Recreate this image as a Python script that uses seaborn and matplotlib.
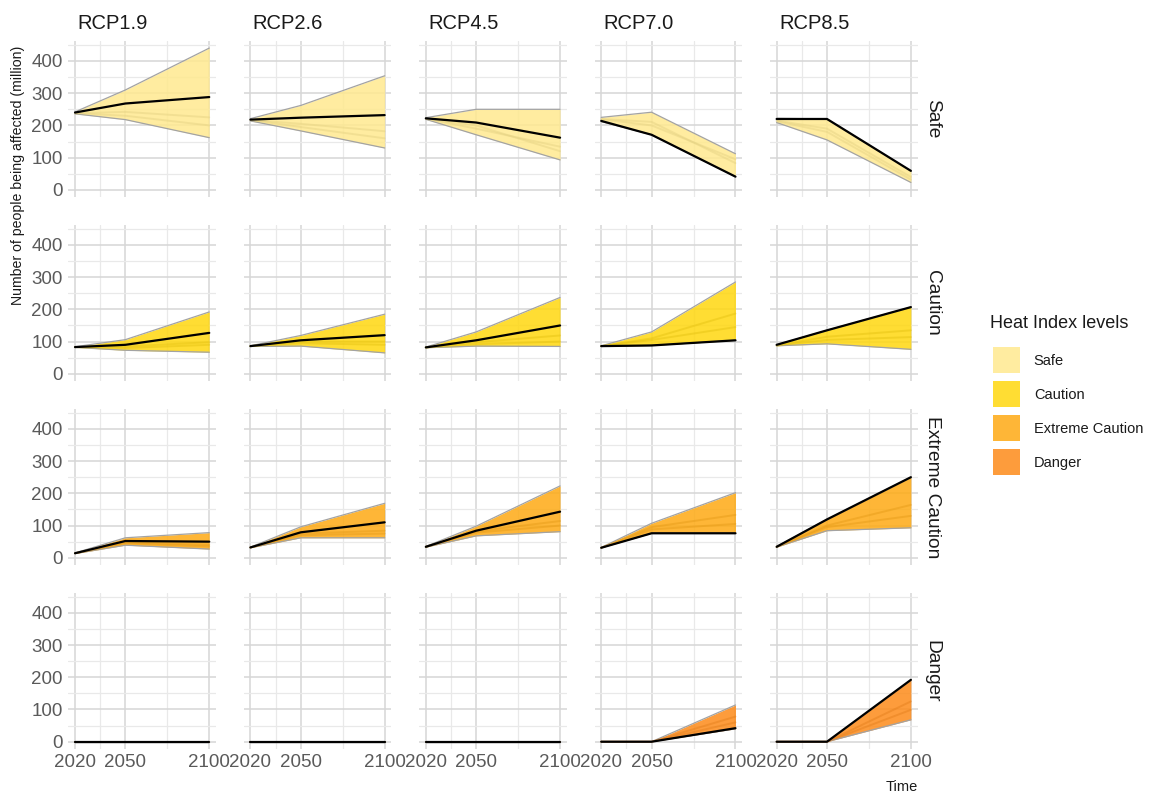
import matplotlib
matplotlib.use("Agg")
import numpy as np
import pandas as pd
import matplotlib.pyplot as plt
import seaborn as sns
from matplotlib.patches import Patch

# ---------------- data ----------------
years = [2020, 2050, 2100]
scenarios = ["RCP1.9", "RCP2.6", "RCP4.5", "RCP7.0", "RCP8.5"]
levels = ["Safe", "Caution", "Extreme Caution", "Danger"]
level_colors = ["#FFE98F", "#FFD70F", "#FEAA14", "#FD8B1A"]

# each list: one [2020, 2050, 2100] triple per scenario
safe_main = [[240, 268, 288], [218, 224, 232], [222, 209, 162], [214, 171, 41], [220, 220, 59]]
safe_low = [[236, 218, 162], [214, 183, 130], [219, 171, 93], [212, 171, 41], [209, 155, 23]]
safe_high = [[242, 310, 440], [221, 262, 354], [224, 250, 250], [225, 241, 112], [222, 220, 59]]
safe_mid1 = [[238, 242, 225], [217, 205, 182], [221, 190, 134], [220, 211, 83], [215, 190, 40]]
safe_mid2 = [[238, 230, 200], [217, 195, 160], [221, 200, 120], [219, 200, 95], [213, 180, 32]]

caution_main = [[83, 90, 127], [86, 104, 120], [82, 104, 150], [86, 88, 104], [90, 135, 207]]
caution_low = [[82, 73, 67], [85, 86, 65], [81, 86, 85], [85, 88, 104], [87, 93, 76]]
caution_high = [[84, 106, 192], [87, 119, 185], [83, 130, 237], [87, 130, 285], [90, 135, 207]]
caution_mid1 = [[83, 85, 98], [86, 100, 100], [82, 98, 119], [86, 110, 187], [88, 115, 135]]
caution_mid2 = [[83, 80, 90], [86, 95, 90], [82, 92, 100], [86, 105, 145], [88, 105, 114]]

extreme_main = [[14, 52, 50], [32, 79, 110], [34, 84, 143], [31, 76, 76], [34, 119, 250]]
extreme_low = [[13, 39, 27], [31, 62, 62], [33, 68, 81], [31, 76, 76], [33, 84, 93]]
extreme_high = [[15, 62, 78], [33, 96, 169], [35, 98, 223], [32, 107, 202], [35, 119, 250]]
extreme_mid1 = [[14, 48, 40], [32, 75, 84], [34, 82, 114], [31, 95, 133], [34, 100, 164]]
extreme_mid2 = [[14, 45, 35], [32, 70, 75], [34, 78, 100], [31, 88, 105], [34, 95, 130]]

danger_main = [[0, 0, 0], [0, 0, 0], [0, 0, 0], [0, 0, 42], [0, 0, 192]]
danger_low = [[0, 0, 0], [0, 0, 0], [0, 0, 0], [0, 0, 40], [0, 0, 68]]
danger_high = [[0, 0, 0], [0, 0, 0], [0, 0, 0], [0, 0, 114], [0, 0, 192]]
danger_mid1 = [[0, 0, 0], [0, 0, 0], [0, 0, 0], [0, 0, 78], [0, 0, 125]]
danger_mid2 = [[0, 0, 0], [0, 0, 0], [0, 0, 0], [0, 0, 60], [0, 0, 99]]

series_by_level = {
    "Safe": dict(main=safe_main, low=safe_low, high=safe_high, mid1=safe_mid1, mid2=safe_mid2),
    "Caution": dict(main=caution_main, low=caution_low, high=caution_high, mid1=caution_mid1, mid2=caution_mid2),
    "Extreme Caution": dict(main=extreme_main, low=extreme_low, high=extreme_high, mid1=extreme_mid1, mid2=extreme_mid2),
    "Danger": dict(main=danger_main, low=danger_low, high=danger_high, mid1=danger_mid1, mid2=danger_mid2),
}

rows = []
for lev in levels:
    for sname, arr in series_by_level[lev].items():
        for si, scen in enumerate(scenarios):
            for yi, yr in enumerate(years):
                rows.append(dict(level=lev, scenario=scen, series=sname, year=yr, value=arr[si][yi]))
df = pd.DataFrame(rows)

# ---------------- style ----------------
sns.set_theme(style="white")
plt.rcParams["font.family"] = ["Liberation Sans", "DejaVu Sans"]

W, H = 1152, 796
fig, axes = plt.subplots(4, 5, figsize=(W / 100, H / 100), dpi=100, sharex=True, sharey=True)
fig.subplots_adjust(left=68.3 / W, right=917.6 / W, bottom=1 - 748.8 / H, top=1 - 41 / H,
                    wspace=27.8 / 148, hspace=28 / 156)

fill_alpha = 0.85

for r, lev in enumerate(levels):
    col = level_colors[r]
    dark = tuple(np.array(matplotlib.colors.to_rgb(col)) * 0.88)
    for c, scen in enumerate(scenarios):
        ax = axes[r, c]
        sub = df[(df.level == lev) & (df.scenario == scen)]
        wide = sub.pivot(index="year", columns="series", values="value")
        lo = wide.min(axis=1)
        hi = wide.max(axis=1)
        ax.fill_between(wide.index, lo, hi, color=col, alpha=fill_alpha, lw=0, zorder=2)
        ax.plot(wide.index, lo, color="#A3A3A3", lw=0.9, zorder=3)
        ax.plot(wide.index, hi, color="#A3A3A3", lw=0.9, zorder=3)
        mids = sub[sub.series.isin(["mid1", "mid2"])]
        sns.lineplot(data=mids, x="year", y="value", units="series", estimator=None,
                     color=dark, alpha=0.4, lw=1.4, ax=ax, legend=False, zorder=4)
        sns.lineplot(data=sub[sub.series == "main"], x="year", y="value", estimator=None,
                     color="black", lw=1.6, ax=ax, legend=False, zorder=5)
        ax.set_xlabel("")
        ax.set_ylabel("")
        ax.set_xlim(2016, 2104)
        ax.set_ylim(-22, 462)
        ax.set_xticks(years)
        ax.set_xticks([2035, 2075], minor=True)
        ax.set_yticks([0, 100, 200, 300, 400])
        ax.set_yticks([50, 150, 250, 350, 450], minor=True)
        ax.set_axisbelow(True)
        ax.grid(which="major", color="#D6D6D6", lw=1.1, zorder=0)
        ax.grid(which="minor", color="#E9E9E9", lw=0.9, zorder=0)
        for sp in ax.spines.values():
            sp.set_visible(False)
        ax.tick_params(which="both", length=0, labelsize=13.5, labelcolor="#5A5A5A")
        ax.tick_params(axis="x", pad=4)
        ax.tick_params(axis="y", pad=4)
        if r == 0:
            ax.annotate(scen, xy=(0, 1), xycoords="axes fraction", xytext=(6.5, 12.5),
                        textcoords="offset points", ha="left", va="center",
                        fontsize=14.5, color="#1A1A1A")
        if c == len(scenarios) - 1:
            ax.annotate(lev, xy=(1, 0.5), xycoords="axes fraction", xytext=(10.5, 0),
                        textcoords="offset points", ha="center", va="center",
                        rotation=-90, fontsize=13.8, color="#1A1A1A")

fig.text(18 / W, 1 - 175 / H, "Number of people being affected (million)", rotation=90,
         ha="center", va="center", fontsize=10.2, color="#1A1A1A")
fig.text(902 / W, 1 - 787 / H, "Time", ha="center", va="center", fontsize=10.5, color="#1A1A1A")

# legend: title drawn as text, keys via fig.legend
fig.text(990 / W, 1 - 323 / H, "Heat Index levels", ha="left", va="center",
         fontsize=13, color="#1A1A1A")
handles = [Patch(facecolor=c, edgecolor="none", alpha=fill_alpha) for c in level_colors]
leg = fig.legend(handles, levels, loc="upper left",
                 bbox_to_anchor=(993 / W, 1 - 347 / H), frameon=False, fontsize=10.5,
                 handlelength=1.85, handleheight=2.37, handletextpad=0.95,
                 labelspacing=0.55, borderpad=0, borderaxespad=0)
for t in leg.get_texts():
    t.set_color("#1A1A1A")

fig.savefig("out.png", dpi=100)
